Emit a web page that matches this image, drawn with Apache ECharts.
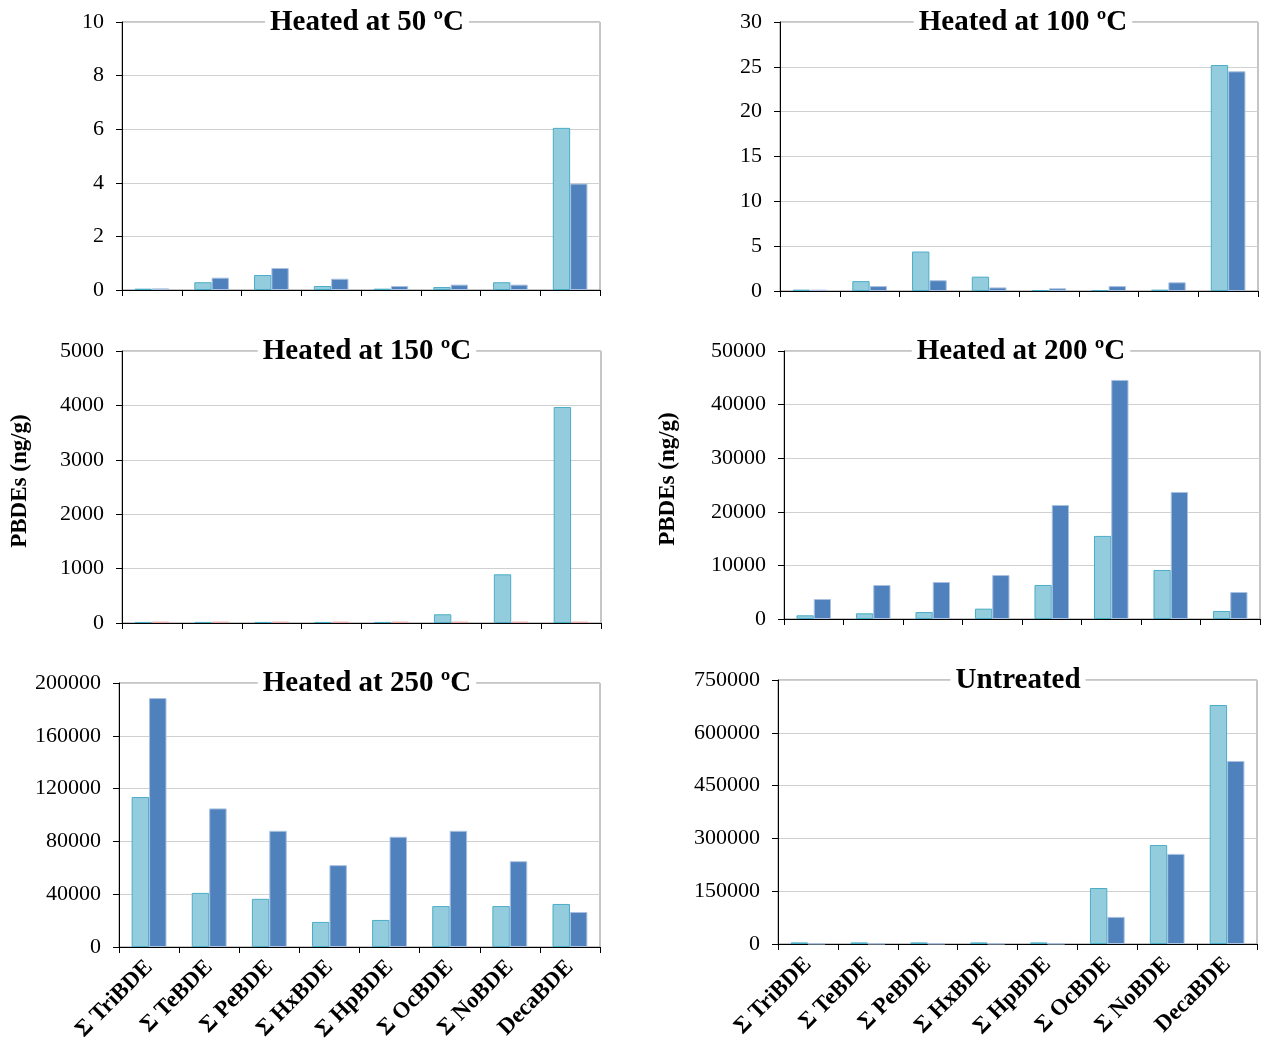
<!DOCTYPE html>
<html>
<head>
<meta charset="utf-8">
<script src="https://cdn.jsdelivr.net/npm/echarts@6/dist/echarts.min.js"></script>
<style>
html,body{margin:0;padding:0;background:#fff;}
#chart{width:1264px;height:1041px;}
</style>
</head>
<body>
<div id="chart"></div>
<script>
const categories = ['Σ TriBDE','Σ TeBDE','Σ PeBDE','Σ HxBDE','Σ HpBDE','Σ OcBDE','Σ NoBDE','DecaBDE'];
const titles = ['Heated at 50 ºC','Heated at 100 ºC','Heated at 150 ºC','Heated at 200 ºC','Heated at 250 ºC','Untreated'];

const h50A  = [0.05, 0.29, 0.56, 0.15, 0.05, 0.11, 0.29, 6.05];
const h50B  = [0.06, 0.46, 0.82, 0.42, 0.15, 0.20, 0.20, 3.97];
const h100A = [0.15, 1.1, 4.4, 1.6, 0.1, 0.1, 0.15, 25.2];
const h100B = [0.15, 0.55, 1.2, 0.4, 0.3, 0.55, 0.97, 24.5];
const h150A = [20, 20, 20, 20, 20, 160, 895, 3970];
const h150B = [25, 25, 25, 25, 25, 25, 25, 25];
const h200A = [690, 1060, 1300, 1930, 6350, 15500, 9150, 1500];
const h200B = [3730, 6340, 6900, 8200, 21270, 44600, 23700, 5040];
const h250A = [113600, 41000, 36500, 19000, 20500, 31000, 31000, 32600];
const h250B = [188600, 105000, 88000, 62000, 83500, 88000, 65000, 26500];
const untA  = [4500, 4500, 4500, 4500, 4500, 159000, 281000, 679000];
const untB  = [800, 800, 800, 800, 800, 77000, 256000, 520000];

const yMax = [10, 30, 5000, 50000, 200000, 750000];
const yStep = [2, 5, 1000, 10000, 40000, 150000];
const yName = ['', '', 'PBDEs (ng/g)', 'PBDEs (ng/g)', '', ''];

const seriesA = [h50A, h100A, h150A, h200A, h250A, untA];
const seriesB = [h50B, h100B, h150B, h200B, h250B, untB];
const colorB = ['#4F81BD', '#4F81BD', '#C0504D', '#4F81BD', '#4F81BD', '#4F81BD'];
const borderB = ['#A9C1E0', '#A9C1E0', '#E2A9A8', '#A9C1E0', '#A9C1E0', '#A9C1E0'];

const grids = [
  {left:122, top:22,  width:478, height:268},
  {left:780, top:22,  width:478, height:269},
  {left:122, top:351, width:479, height:272},
  {left:784, top:351, width:476, height:268},
  {left:119, top:683, width:481, height:264},
  {left:778, top:680, width:479, height:264}
];
const titleCenters = [362, 1018, 362, 1016, 362, 1013];
const nameGaps = [0, 0, 90, 104, 0, 0];

const FONT = '"Liberation Serif", "Times New Roman", serif';

const option = {
  animation: false,
  backgroundColor: '#fff',
  title: titles.map((t, i) => ({
    text: t,
    left: titleCenters[i],
    top: grids[i].top - 15,
    textAlign: 'center',
    backgroundColor: '#fff',
    padding: [0, 5],
    textStyle: {fontFamily: FONT, fontWeight: 'bold', fontSize: 29, color: '#000', lineHeight: 32}
  })),
  grid: grids.map(g => Object.assign({show: true, borderColor: '#8c8c8c', borderWidth: 1, backgroundColor: 'transparent', containLabel: false, outerBoundsMode: 'none'}, g)),
  xAxis: grids.map((g, i) => ({
    type: 'category',
    gridIndex: i,
    data: categories,
    axisLine: {lineStyle: {color: '#000', width: 1}},
    axisTick: {show: true, length: 6, interval: 0, lineStyle: {color: '#000'}},
    axisLabel: {
      show: i >= 4,
      interval: 0,
      rotate: 45,
      margin: 17,
      fontFamily: FONT,
      fontWeight: 'bold',
      fontSize: 23,
      color: '#000'
    },
    splitLine: {show: false}
  })),
  yAxis: grids.map((g, i) => ({
    type: 'value',
    gridIndex: i,
    min: 0,
    max: yMax[i],
    interval: yStep[i],
    name: yName[i],
    nameLocation: 'middle',
    nameGap: nameGaps[i],
    nameTextStyle: {fontFamily: FONT, fontWeight: 'bold', fontSize: 23, color: '#000', padding: [0, 0, 0, 12]},
    axisLine: {show: true, lineStyle: {color: '#000', width: 1}},
    axisTick: {show: true, length: 6, lineStyle: {color: '#000'}},
    axisLabel: {
      margin: 18,
      fontFamily: FONT,
      fontSize: 22,
      color: '#000',
      formatter: v => String(v)
    },
    splitLine: {show: true, lineStyle: {color: '#d0d0d0', width: 1}}
  })),
  series: []
};

for (let i = 0; i < 6; i++) {
  option.series.push({
    type: 'bar',
    xAxisIndex: i,
    yAxisIndex: i,
    data: seriesA[i],
    barGap: '0%',
    barCategoryGap: '42%',
    itemStyle: {color: '#93CDDD', borderColor: '#4BACC6', borderWidth: 1}
  });
  option.series.push({
    type: 'bar',
    xAxisIndex: i,
    yAxisIndex: i,
    data: seriesB[i],
    barGap: '0%',
    barCategoryGap: '42%',
    itemStyle: {color: colorB[i], borderColor: borderB[i], borderWidth: 1}
  });
}

const chart = echarts.init(document.getElementById('chart'), null, {renderer: 'canvas'});
chart.setOption(option);
</script>
</body>
</html>
